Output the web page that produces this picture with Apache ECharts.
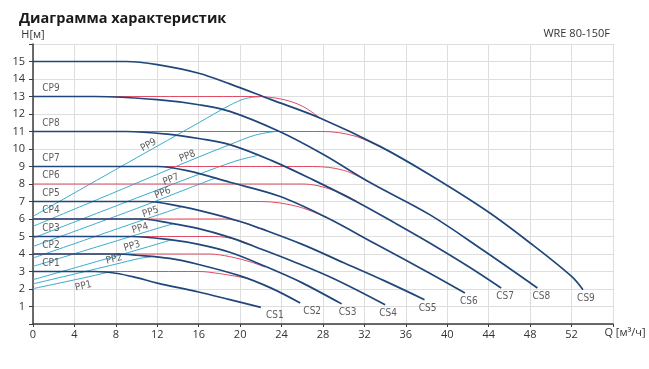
<!DOCTYPE html>
<html><head><meta charset="utf-8">
<script src="https://cdn.jsdelivr.net/npm/echarts/dist/echarts.min.js"></script>
<style>html,body{margin:0;padding:0;background:#fff}#c{width:649px;height:369px}</style>
</head><body><div id="c"></div>
<script>
// ---- text ----
const titleText = 'Диаграмма характеристик';
const modelText = 'WRE 80-150F';
const xName = 'Q [м³/ч]';
const yName = 'H[м]';

// ---- constant speed curves (Q, H) ----
const csNames = ['CS1','CS2','CS3','CS4','CS5','CS6','CS7','CS8','CS9'];
const cs1 = [[0,3],[6,3],[8,2.9],[10,2.65],[12,2.34],[16,1.83],[19,1.39],[22,0.95]];
const cs2 = [[0,4],[8,4],[10,3.93],[13.2,3.75],[16,3.4],[20,2.75],[23,2.05],[25.8,1.2]];
const cs3 = [[0,5],[9.5,5],[13.2,4.82],[16,4.55],[19,4.1],[22.4,3.3],[26,2.35],[29.8,1.15]];
const cs4 = [[0,6],[10.5,6],[13.2,5.77],[16,5.45],[19,4.95],[21.5,4.4],[25,3.6],[29,2.6],[34,1.1]];
const cs5 = [[0,7],[11,7],[14,6.75],[17,6.35],[20,5.86],[22,5.45],[26,4.55],[30,3.5],[34,2.45],[37.8,1.39]];
const cs6 = [[0,9],[12,9],[15,8.75],[19,8.1],[23.8,7.3],[28.3,6.1],[33,4.6],[38.3,2.9],[41.7,1.77]];
const cs7 = [[0,11],[9,11],[13,10.85],[16,10.6],[19,10.25],[23,9.35],[27,8.25],[31.2,7.0],[35,5.75],[38.3,4.63],[42,3.3],[45.2,2.06]];
const cs8 = [[0,13],[6,13],[12,12.82],[16,12.53],[19,12.15],[23.8,11.0],[28,9.7],[32.5,8.1],[38.3,6.25],[43.5,4.2],[48.7,2.06]];
const cs9 = [[0,15],[9,15],[12,14.82],[16,14.33],[19,13.72],[23,12.82],[27.7,11.77],[33.5,10.15],[38.3,8.53],[43.9,6.43],[48,4.63],[52,2.72],[53.1,1.96]];

// ---- constant pressure curves ----
const cpNames = ['CP1','CP2','CP3','CP4','CP5','CP6','CP7','CP8','CP9'];
const cp1 = [[0,3],[16,3],[18,2.88],[20.6,2.62]];
const cp2 = [[0,4],[17,4],[19,3.85],[21,3.55],[22.4,3.25]];
const cp3 = [[0,5],[17.5,5],[19.5,4.85],[21.2,4.5]];
const cp4 = [[0,6],[18.5,6],[20.3,5.8],[21.8,5.45]];
const cp5 = [[0,7],[22,7],[25.5,6.72],[28.3,6.1]];
const cp6 = [[0,8],[26,8],[29,7.65],[31.3,7.0]];
const cp7 = [[0,9],[27,9],[30,8.78],[32.5,8.1]];
const cp8 = [[0,11],[28,11],[31,10.75],[33.6,10.1]];
const cp9 = [[0,13],[21.5,13],[24,12.85],[26,12.45],[27.7,11.77]];

// ---- proportional pressure curves ----
const ppNames = ['PP1','PP2','PP3','PP4','PP5','PP6','PP7','PP8','PP9'];
const pp1 = [[0,2.02],[5,2.65],[7.2,2.95]];
const pp2 = [[0,2.29],[8,3.42],[10.3,3.75],[11.4,3.83]];
const pp3 = [[0,2.53],[10,4.22],[12.3,4.62],[13.3,4.8]];
const pp4 = [[0,3.29],[10,5.1],[12.5,5.55],[13.6,5.74]];
const pp5 = [[0,3.77],[10,5.82],[13,6.42],[14.3,6.68]];
const pp6 = [[0,4.43],[10,6.6],[15,7.75],[17.7,8.36]];
const pp7 = [[0,4.91],[10,7.2],[16,8.55],[19.5,9.3],[21.6,9.62]];
const pp8 = [[0,5.58],[10,8.05],[15,9.3],[19,10.25],[21.5,10.8],[23.6,11.02]];
const pp9 = [[0,6.15],[10,9.5],[16,11.5],[19,12.5],[20.5,12.88],[22,13.0]];
// flow at which each PP name is written along its line
const ppLabelQ = [4.7, 7.95, 9.7, 10.5, 11.5, 12.7, 13.5, 15.1, 11.4];

const csCurves = [cs1,cs2,cs3,cs4,cs5,cs6,cs7,cs8,cs9];
const cpCurves = [cp1,cp2,cp3,cp4,cp5,cp6,cp7,cp8,cp9];
const ppCurves = [pp1,pp2,pp3,pp4,pp5,pp6,pp7,pp8,pp9];

// ---- axes ----
const xMin = 0, xMax = 56, xStep = 4;
const yMin = 0, yMax = 16, yStep = 1;

// ---- style ----
const CS_COLOR = '#1f477a';
const CP_COLOR = '#e04a62';
const PP_COLOR = '#3aaccb';
const TXT = '#333333';
const AX_FONT = "'Open Sans', sans-serif";
const LBL_FONT = "'DejaVu Sans Condensed','Liberation Sans Narrow','DejaVu Sans',sans-serif";
const csLabelShift = [11, 9, 3, 0, 0, 1, 1, 1, 0]; // px, horizontal nudge of end labels

function interp(arr, q){
  for (let i = 0; i < arr.length - 1; i++){
    const [x0,y0] = arr[i], [x1,y1] = arr[i+1];
    if (q >= x0 && q <= x1) return y0 + (y1 - y0) * (q - x0) / (x1 - x0);
  }
  return arr[arr.length-1][1];
}

const chart = echarts.init(document.getElementById('c'));

function lineSeries(d, name, color, width, z){
  return {type:'line', name, data:d, smooth:0.35, symbol:'none',
    lineStyle:{color, width}, z, silent:true, animation:false};
}

function buildSeries(ppRot){
  const s = [];
  ppCurves.forEach((d,i)=> s.push(lineSeries(d, ppNames[i], PP_COLOR, 1, 2)));
  cpCurves.forEach((d,i)=> s.push(lineSeries(d, cpNames[i], CP_COLOR, 1, 3)));
  csCurves.forEach((d,i)=> s.push(lineSeries(d, csNames[i], CS_COLOR, 1.7, 4)));
  const lblBase = {color:TXT, fontSize:10, fontFamily:LBL_FONT};
  s.push({type:'scatter', symbolSize:1, itemStyle:{color:'rgba(0,0,0,0)'}, silent:true, animation:false, z:5,
    data: csCurves.map((d,i)=>({name:csNames[i], value:d[d.length-1], label:{offset:[3+csLabelShift[i],1]}})),
    label:{show:true, position:'bottom', distance:2, formatter:p=>p.name, ...lblBase}});
  s.push({type:'scatter', symbolSize:1, itemStyle:{color:'rgba(0,0,0,0)'}, silent:true, animation:false, z:5,
    data: cpCurves.map((d,i)=>({name:cpNames[i], value:d[0]})),
    label:{show:true, position:'top', distance:3, offset:[18,0], formatter:p=>p.name, ...lblBase}});
  s.push({type:'scatter', symbolSize:1, itemStyle:{color:'rgba(0,0,0,0)'}, silent:true, animation:false, z:5,
    data: ppCurves.map((d,i)=>({name:ppNames[i], value:[ppLabelQ[i], interp(d, ppLabelQ[i])],
      label:{rotate: ppRot ? ppRot[i] : 0, offset: i===0 ? [0,8] : [0,-5]}})),
    label:{show:true, position:'inside', formatter:p=>p.name, ...lblBase}});
  return s;
}

const option = {
  animation:false,
  backgroundColor:'#ffffff',
  title:[
    {text:titleText, left:14, top:6, textStyle:{fontFamily:AX_FONT, fontWeight:'bold', fontSize:14.5, color:'#1a1a1a'}},
    {text:modelText, right:34, top:23, textStyle:{fontFamily:AX_FONT, fontWeight:'normal', fontSize:11, color:TXT}}
  ],
  grid:{left:33, right:36, top:44, bottom:45, containLabel:false},
  xAxis:{type:'value', min:xMin, max:xMax, interval:xStep,
    axisLine:{show:true, onZero:false, lineStyle:{color:'#3c3c3c', width:1.5}},
    axisTick:{show:true, length:3, lineStyle:{color:'#3c3c3c'}},
    axisLabel:{margin:5, fontSize:11, color:TXT, fontFamily:AX_FONT, formatter:v=> v===xMax ? '' : String(v)},
    splitLine:{show:true, lineStyle:{color:'#dedede', width:1}},
    name:xName, nameLocation:'end', nameGap:12,
    nameTextStyle:{fontSize:11, color:TXT, fontFamily:AX_FONT, align:'center', verticalAlign:'top', padding:[3,0,0,0]}},
  yAxis:{type:'value', min:yMin, max:yMax, interval:yStep,
    axisLine:{show:true, onZero:false, lineStyle:{color:'#3c3c3c', width:1.5}},
    axisTick:{show:true, length:4, lineStyle:{color:'#3c3c3c'}},
    axisLabel:{margin:8, fontSize:11, color:TXT, fontFamily:AX_FONT, formatter:v=> (v===yMin||v===yMax) ? '' : String(v)},
    splitLine:{show:true, lineStyle:{color:'#dedede', width:1}},
    name:yName, nameLocation:'end', nameGap:4,
    nameTextStyle:{fontSize:11, color:TXT, fontFamily:AX_FONT, align:'center'}},
  series: buildSeries(null)
};
chart.setOption(option);

const rot = ppCurves.map((d,i)=>{
  const q = ppLabelQ[i];
  const a = chart.convertToPixel({gridIndex:0}, [q-1, interp(d, q-1)]);
  const b = chart.convertToPixel({gridIndex:0}, [q+1, interp(d, q+1)]);
  return Math.atan2(a[1]-b[1], b[0]-a[0]) * 180 / Math.PI;
});
chart.setOption({series: buildSeries(rot)});
</script>
</body></html>
